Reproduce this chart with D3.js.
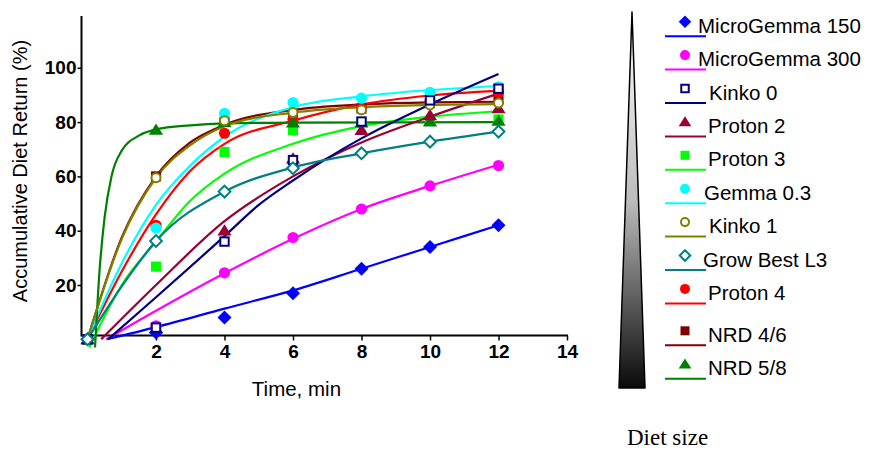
<!DOCTYPE html>
<html>
<head>
    <meta charset="utf-8">
    <style>
        body {
            margin: 0;
            background: #fff;
        }

        svg {
            display: block;
            font-family: 'Liberation Sans', Arial, sans-serif;
        }

        .axis .domain {
            display: none;
        }

        .axis .tick line {
            stroke: #000;
            stroke-width: 1.5;
        }

        .axis .tick text {
            font-size: 19px;
            font-weight: bold;
            fill: #000;
        }

        .legend text {
            font-size: 20.5px;
            fill: #000;
        }
    </style>
</head>

<body>
    <svg width="869" height="451"></svg>

    <script src="https://d3js.org/d3.v7.min.js"></script>
    <script>
        // measured times (min)
        let times = [0, 2, 4, 6, 8, 10, 12]
        let xTicks = [2, 4, 6, 8, 10, 12, 14]
        let yTicks = [20, 40, 60, 80, 100]

        // measured diet return (%) per diet
        let mg150 = [0, 2.5, 8, 17, 26, 34, 42]
        let mg300 = [0, 5, 24.5, 37.5, 48, 56.5, 64]
        let kinko0 = [0, 4.3, 36, 66, 80.2, 88, 92.3]
        let proton2 = [0, 4, 40, 66.5, 77, 82.5, 85]
        let proton3 = [0, 26.8, 69, 77, 80, 80.5, 81]
        let gemma03 = [0, 41, 83.2, 87.2, 88.8, 91, 93]
        let kinko1 = [0, 59.5, 80.5, 83.5, 84.5, 86.3, 87]
        let growBest = [0, 36.2, 54.4, 63, 68.5, 72.8, 76.5]
        let proton4 = [0, 42, 75.9, 81, 85, 87.5, 91]
        let nrd46 = [0, 60, 80, 82.5, 85, 87, 88.5]
        let nrd58 = [0, 77.1, 80, 79.8, 79.8, 80.2, 80.4]

        // fitted curves as [time, %]
        let fitMg150 = [[0.55, 0], [2, 4.5], [4, 11.3], [6, 18], [8, 26], [10, 34], [12, 42]]
        let fitMg300 = [[0.55, 0], [2, 10.5], [4, 24.3], [6, 37], [8, 48], [10, 56.5], [12, 64.3]]
        let fitKinko0 = [[0.6, 0], [2, 15.5], [4, 38], [5, 49.5], [6, 58.5], [8, 74], [10, 86.5], [12, 97.7]]
        let fitProton2 = [[0.4, 0], [2, 20], [4, 43.5], [6, 60], [8, 72.5], [10, 82], [12, 90.5]]
        let fitProton3 = [[0.05, -3], [1, 20], [2, 36], [3, 51], [4, 61], [6, 72], [8, 78.5], [10, 82], [12, 84]]
        let fitGemma03 = [[0, 0], [1, 28], [2, 49.5], [3, 64], [4, 74.6], [6, 85.5], [8, 89.5], [10, 91.8], [12, 93.3]]
        let fitKinko1 = [[0, 0], [1, 37], [2, 59.5], [3, 71.5], [4, 78.5], [6, 83.5], [8, 85.5], [10, 86.3], [12, 86.6]]
        let fitGrowBest = [[0, 0], [1, 19.5], [2, 36.2], [4, 54.4], [6, 63.3], [8, 68.5], [10, 72.8], [12, 76.5]]
        let fitProton4 = [[0, 0], [1, 25], [2, 46], [3, 62], [4, 72], [6, 80.5], [8, 86.5], [10, 89.8], [12, 91.6]]
        let fitNrd46 = [[0, 0], [1, 37.5], [2, 60], [3, 72.5], [4, 79], [6, 84.5], [8, 86.5], [10, 87.3], [12, 87.5]]
        let fitNrd58 = [[0.22, -3], [0.35, 25], [0.5, 45], [0.7, 60], [1, 69.5], [1.5, 75], [2, 77.3], [3, 78.8], [4, 79.5], [6, 79.8], [12, 80]]

        let names = ["MicroGemma 150", "MicroGemma 300", "Kinko 0", "Proton 2", "Proton 3",
            "Gemma 0.3", "Kinko 1", "Grow Best L3", "Proton 4", "NRD 4/6", "NRD 5/8"]
        let colors = ["#0000ff", "#ff00ff", "#000080", "#990033", "#00ff00",
            "#00ffff", "#808000", "#008080", "#ff0000", "#800000", "#008000"]
        let symbols = ["diamond", "circle", "squareOpen", "triangle", "square",
            "circle", "circleOpen", "diamondOpen", "circle", "square", "triangle"]

        let values = [mg150, mg300, kinko0, proton2, proton3, gemma03, kinko1, growBest, proton4, nrd46, nrd58]
        let fits = [fitMg150, fitMg300, fitKinko0, fitProton2, fitProton3, fitGemma03,
            fitKinko1, fitGrowBest, fitProton4, fitNrd46, fitNrd58]

        let series = names.map((n, i) => ({
            name: n, color: colors[i], symbol: symbols[i],
            points: times.map((t, j) => [t, values[i][j]]),
            fit: fits[i]
        }))

        // drawing order that matches the overlaps in the original
        let drawOrder = [9, 8, 5, 4, 10, 3, 6, 0, 1, 2, 7]
        let ordered = drawOrder.map(i => series[i])

        let svg = d3.select("svg")

        let x = d3.scaleLinear().domain([0, 14]).range([87.5, 567])
        let y = d3.scaleLinear().domain([0, 100]).range([339.3, 67.8])

        let axisY = 335.5
        let axisX = 81.5

        // x axis
        svg.append("g")
            .attr("class", "x axis")
            .attr("transform", `translate(0,${axisY})`)
            .call(d3.axisBottom(x).tickValues(xTicks).tickSize(5).tickPadding(4).tickFormat(d3.format("d")))
        svg.append("line")
            .attr("x1", axisX).attr("x2", x(14) + 1)
            .attr("y1", axisY).attr("y2", axisY)
            .attr("stroke", "#000").attr("stroke-width", 2)

        // y axis
        svg.append("g")
            .attr("class", "y axis")
            .attr("transform", `translate(${axisX},0)`)
            .call(d3.axisLeft(y).tickValues(yTicks).tickSize(4).tickPadding(1).tickFormat(d3.format("d")))
        svg.append("line")
            .attr("x1", axisX).attr("x2", axisX)
            .attr("y1", 16).attr("y2", axisY + 1)
            .attr("stroke", "#000").attr("stroke-width", 2)

        svg.append("text")
            .attr("x", x(6.1))
            .attr("y", 396)
            .attr("text-anchor", "middle")
            .style("font-size", "20.5px")
            .text("Time, min")

        svg.append("text")
            .attr("transform", "translate(27,171) rotate(-90)")
            .attr("text-anchor", "middle")
            .style("font-size", "20px")
            .text("Accumulative Diet Return (%)")

        // fitted lines
        let line = d3.line()
            .x(d => x(d[0]))
            .y(d => y(d[1]))
            .curve(d3.curveMonotoneX)

        svg.append("g")
            .selectAll("path")
            .data(ordered)
            .join("path")
            .attr("d", d => line(d.fit))
            .attr("fill", "none")
            .attr("stroke", d => d.color)
            .attr("stroke-width", 2.2)

        function marker(g, s, r) {
            let open = s.symbol.endsWith("Open")
            let base = s.symbol.replace("Open", "")
            let fill = open ? "#fff" : s.color
            let stroke = open ? s.color : "none"
            let el
            if (base === "circle") {
                el = g.append("circle").attr("r", open ? r * 0.8 : r)
            } else if (base === "square") {
                let h = open ? r * 0.75 : r * 0.9
                el = g.append("rect").attr("x", -h).attr("y", -h).attr("width", 2 * h).attr("height", 2 * h)
            } else if (base === "diamond") {
                let h = open ? r * 1.05 : r * 1.25
                el = g.append("path").attr("d", `M0,${-h}L${h},0L0,${h}L${-h},0Z`)
            } else {
                let h = r * 1.15
                el = g.append("path").attr("d", `M0,${-h}L${h * 1.1},${h * 0.75}L${-h * 1.1},${h * 0.75}Z`)
            }
            el.attr("fill", fill).attr("stroke", stroke).attr("stroke-width", open ? 2 : 0)
        }

        // markers
        ordered.forEach(s => {
            s.points.forEach(p => {
                let g = svg.append("g").attr("transform", `translate(${x(p[0])},${y(p[1])})`)
                marker(g, s, 5.6)
            })
        })

        // diet size wedge
        let defs = svg.append("defs")
        let grad = defs.append("linearGradient")
            .attr("id", "wedge").attr("x1", 0).attr("y1", 0).attr("x2", 0).attr("y2", 1)
        grad.append("stop").attr("offset", "0%").attr("stop-color", "#ffffff")
        grad.append("stop").attr("offset", "50%").attr("stop-color", "#bcbcbc")
        grad.append("stop").attr("offset", "100%").attr("stop-color", "#0a0a0a")

        svg.append("path")
            .attr("d", "M632,12 L645,388 L619,388 Z")
            .attr("fill", "url(#wedge)")
            .attr("stroke", "#000")
            .attr("stroke-width", 1.5)
            .attr("stroke-linejoin", "round")

        svg.append("text")
            .attr("x", 627)
            .attr("y", 445)
            .style("font-family", "'Liberation Serif', 'Times New Roman', serif")
            .style("font-size", "23px")
            .text("Diet size")

        // legend
        let legendTextX = [698, 698, 709, 708, 708, 704, 709, 703, 708, 708, 708]
        let legend = svg.append("g").attr("class", "legend")
        series.forEach((s, i) => {
            let my = 21.7 + i * 33.4 + (i >= 9 ? 8.5 : 0)
            let g = legend.append("g")
            let mg = g.append("g").attr("transform", `translate(685,${my})`)
            marker(mg, s, 5)
            g.append("line")
                .attr("x1", 665).attr("x2", 706)
                .attr("y1", my + 14.5).attr("y2", my + 14.5)
                .attr("stroke", s.color).attr("stroke-width", 2)
            g.append("text")
                .attr("x", legendTextX[i])
                .attr("y", my + 11)
                .text(s.name)
        })
    </script>
</body>
</html>
